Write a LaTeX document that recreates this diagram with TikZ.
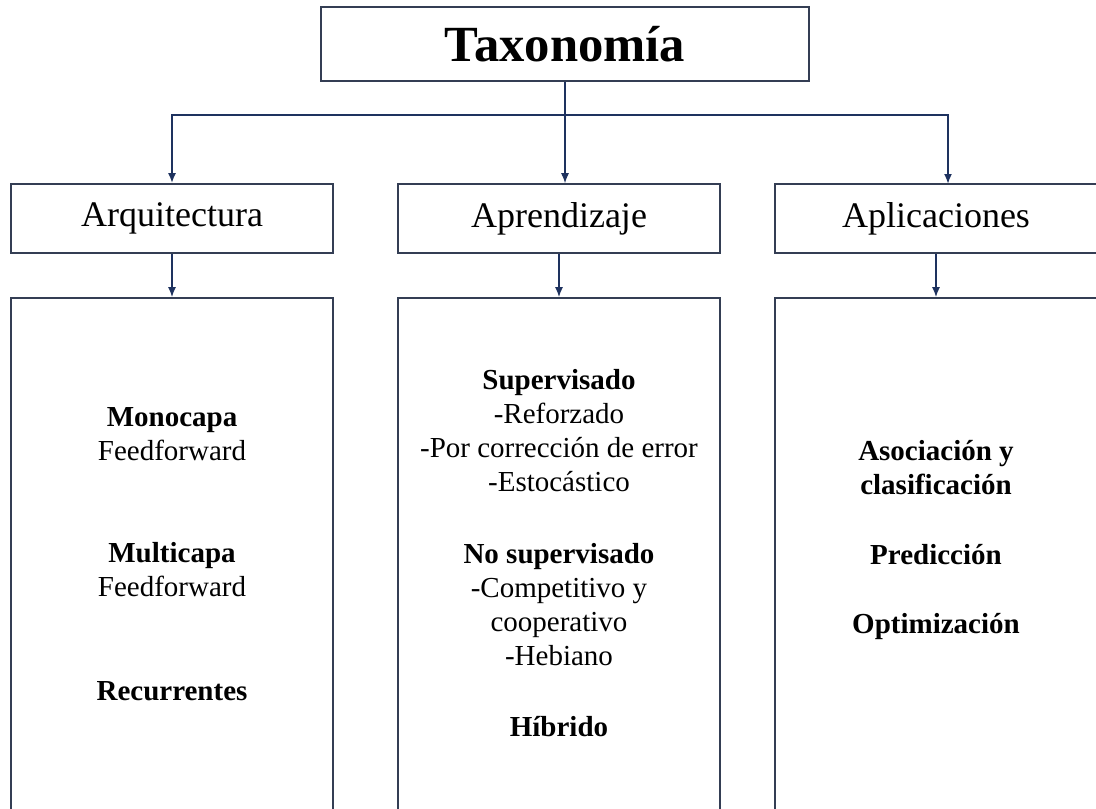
\documentclass[tikz,border=0pt]{standalone}
\usepackage{fontspec}
\setmainfont{Liberation Serif}
\usetikzlibrary{arrows.meta}

\definecolor{boxline}{RGB}{52,62,84}
\definecolor{arrowline}{RGB}{30,50,95}

\begin{document}
\begin{tikzpicture}[x=0.75pt,y=-0.75pt,
  box/.style={draw=boxline,line width=1.3pt,rectangle,inner sep=0pt,fill=white},
  toplabel/.style={font=\fontsize{38}{44}\selectfont\bfseries},
  midbox/.style={box,minimum width=241.5pt,minimum height=51.75pt,
                 font=\fontsize{27}{32}\selectfont},
  listbox/.style={box,minimum width=241.5pt,minimum height=399pt},
  item/.style={align=center,inner sep=0pt,font=\fontsize{21.75}{25.5}\selectfont},
  link/.style={draw=arrowline,line width=1.1pt},
  arrow/.style={link,-{Latex[length=7.5pt,width=6pt]}}
]
\useasboundingbox (0,0) rectangle (1096,808);
\clip (0,0) rectangle (1096,808);

% root
\node[box,toplabel,minimum width=366pt,minimum height=55.5pt] (tax) at (565,44) {Taxonomía};

% second row
\node[midbox] (arq) at (172,218.5) {Arquitectura};
\node[midbox] (apr) at (559,218.5) {Aprendizaje};
\node[midbox] (apl) at (936,218.5) {Aplicaciones};

% third row (tall boxes running past the lower edge)
\node[listbox] (arqd) at (172,564) {};
\node[listbox] (aprd) at (559,564) {};
\node[listbox] (apld) at (936,564) {};

% branching from the root
\coordinate (bus) at (565,115);
\coordinate (aplin) at (948,184);
\draw[arrow,line width=0.8pt] (tax.south) -- (tax.south |- apr.north);
\draw[arrow,line width=1.4pt] (bus) -| (arq.north);
\draw[arrow,line width=1.4pt] (bus) -| (aplin);

% second row to third row
\draw[arrow] (arq.south) -- (arqd.north);
\draw[arrow] (apr.south) -- (aprd.north);
\draw[arrow] (apl.south) -- (apld.north);

% architecture contents
\node[item] (mono) at (172,434.5) {\textbf{Monocapa}\\Feedforward};
\node[item] (multi) at (172,569.5) {\textbf{Multicapa}\\Feedforward};
\node[item] (recu) at (172,691) {\textbf{Recurrentes}};

% learning contents
\node[item] (sup) at (559,430.5) {\textbf{Supervisado}\\-Reforzado\\-Por corrección de error\\-Estocástico};
\node[item] (nosup) at (559,604.5) {\textbf{No supervisado}\\-Competitivo y\\cooperativo\\-Hebiano};
\node[item] (hib) at (559,727) {\textbf{Híbrido}};

% applications contents
\node[item] (asoc) at (936,468) {\textbf{Asociación y}\\\textbf{clasificación}};
\node[item] (pred) at (936,555) {\textbf{Predicción}};
\node[item] (opt) at (936,626) {\textbf{Optimización}};
\end{tikzpicture}
\end{document}
